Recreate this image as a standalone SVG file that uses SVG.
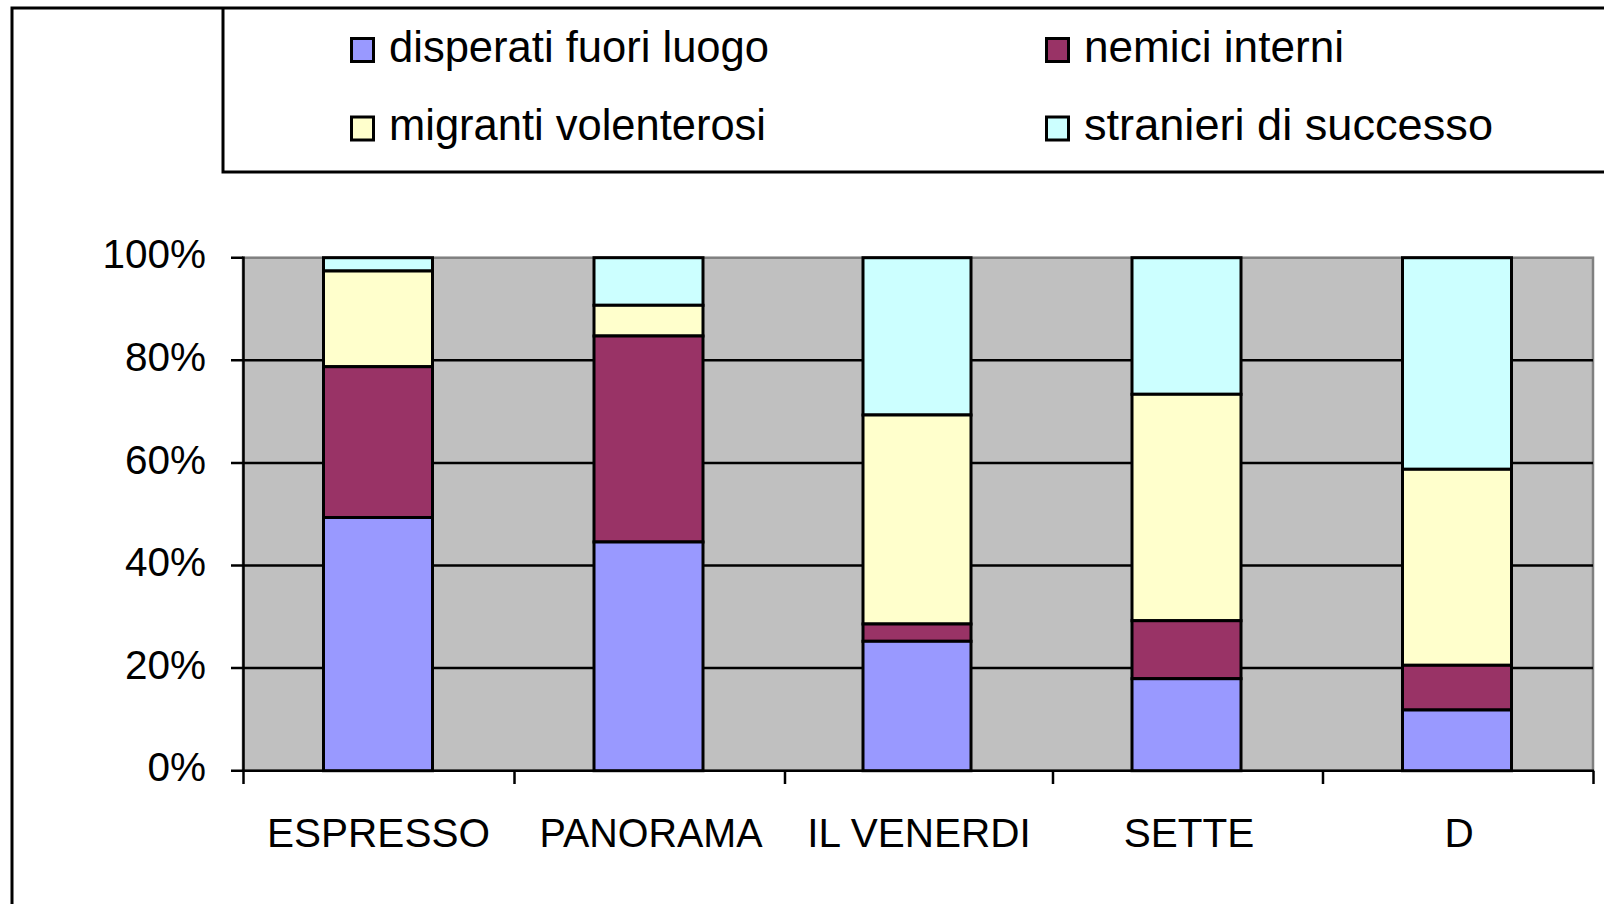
<svg xmlns="http://www.w3.org/2000/svg" width="1604" height="904" viewBox="0 0 1604 904">
<style>
text{font-family:"Liberation Sans",Arial,sans-serif;fill:#000}
.lg{font-size:45px}
.ax{font-size:40.5px}
.blk{stroke:#000;stroke-width:3;fill:none}
.seg{stroke:#000;stroke-width:3}
.b{fill:#9999FF}.m{fill:#993366}.y{fill:#FFFFCC}.c{fill:#CCFFFF}
.grid{stroke:#000;stroke-width:2.5}
</style>
<rect width="1604" height="904" fill="#fff"/>
<g id="frame">
<path class="blk" d="M12,904 V8 H1604"/>
</g>
<g id="legend">
<path class="blk" d="M223,8 V172 H1604"/>
<rect class="seg b" x="351.5" y="38.5" width="22" height="23"/>
<text class="lg" x="389" y="62" textLength="380" lengthAdjust="spacingAndGlyphs">disperati fuori luogo</text>
<rect class="seg m" x="1046.5" y="38.5" width="22" height="23"/>
<text class="lg" x="1084" y="62" textLength="260" lengthAdjust="spacingAndGlyphs">nemici interni</text>
<rect class="seg y" x="351.5" y="117" width="22" height="23"/>
<text class="lg" x="389" y="140" textLength="377" lengthAdjust="spacingAndGlyphs">migranti volenterosi</text>
<rect class="seg c" x="1046.5" y="117" width="22" height="23"/>
<text class="lg" x="1084" y="140" textLength="409" lengthAdjust="spacingAndGlyphs">stranieri di successo</text>
</g>
<g id="plot">
<rect x="243" y="257.7" width="1350" height="513" fill="#C0C0C0" stroke="#808080" stroke-width="2.5"/>
<line class="grid" x1="243" y1="668.1" x2="1593" y2="668.1"/>
<line class="grid" x1="243" y1="565.5" x2="1593" y2="565.5"/>
<line class="grid" x1="243" y1="462.9" x2="1593" y2="462.9"/>
<line class="grid" x1="243" y1="360.3" x2="1593" y2="360.3"/>
</g>
<g id="axes">
<line class="grid" x1="243.5" y1="256.5" x2="243.5" y2="784"/>
<line class="grid" x1="242" y1="770.7" x2="1594" y2="770.7"/>
<path class="grid" fill="none" d="M231,257.7H243M231,360.3H243M231,462.9H243M231,565.5H243M231,668.1H243M231,770.7H243"/>
<path class="grid" fill="none" d="M514.5,770.7V784M785,770.7V784M1053,770.7V784M1323,770.7V784M1593.5,770.7V784"/>
<text class="ax" x="206" y="268.3" text-anchor="end">100%</text>
<text class="ax" x="206" y="370.9" text-anchor="end">80%</text>
<text class="ax" x="206" y="473.5" text-anchor="end">60%</text>
<text class="ax" x="206" y="576.1" text-anchor="end">40%</text>
<text class="ax" x="206" y="678.7" text-anchor="end">20%</text>
<text class="ax" x="206" y="781.3" text-anchor="end">0%</text>
<text class="ax" x="378.5" y="846.7" text-anchor="middle">ESPRESSO</text>
<text class="ax" x="651" y="846.7" text-anchor="middle" textLength="223" lengthAdjust="spacingAndGlyphs">PANORAMA</text>
<text class="ax" x="919" y="846.7" text-anchor="middle">IL VENERDI</text>
<text class="ax" x="1189" y="846.7" text-anchor="middle">SETTE</text>
<text class="ax" x="1459" y="846.7" text-anchor="middle">D</text>
</g>
<g id="bar-espresso">
<rect class="seg c" x="323.5" y="257.7" width="109" height="13.3"/>
<rect class="seg y" x="323.5" y="271" width="109" height="95.7"/>
<rect class="seg m" x="323.5" y="366.7" width="109" height="150.8"/>
<rect class="seg b" x="323.5" y="517.5" width="109" height="253.2"/>
</g>
<g id="bar-panorama">
<rect class="seg c" x="594" y="257.7" width="109" height="47.6"/>
<rect class="seg y" x="594" y="305.3" width="109" height="30.7"/>
<rect class="seg m" x="594" y="336" width="109" height="206"/>
<rect class="seg b" x="594" y="542" width="109" height="228.7"/>
</g>
<g id="bar-ilvenerdi">
<rect class="seg c" x="863" y="257.7" width="108" height="157.3"/>
<rect class="seg y" x="863" y="415" width="108" height="209"/>
<rect class="seg m" x="863" y="624" width="108" height="17.3"/>
<rect class="seg b" x="863" y="641.3" width="108" height="129.4"/>
</g>
<g id="bar-sette">
<rect class="seg c" x="1132" y="257.7" width="109" height="136.6"/>
<rect class="seg y" x="1132" y="394.3" width="109" height="226.4"/>
<rect class="seg m" x="1132" y="620.7" width="109" height="58"/>
<rect class="seg b" x="1132" y="678.7" width="109" height="92"/>
</g>
<g id="bar-d">
<rect class="seg c" x="1402.5" y="257.7" width="109" height="211.6"/>
<rect class="seg y" x="1402.5" y="469.3" width="109" height="196"/>
<rect class="seg m" x="1402.5" y="665.3" width="109" height="44.7"/>
<rect class="seg b" x="1402.5" y="710" width="109" height="60.7"/>
</g>
</svg>
